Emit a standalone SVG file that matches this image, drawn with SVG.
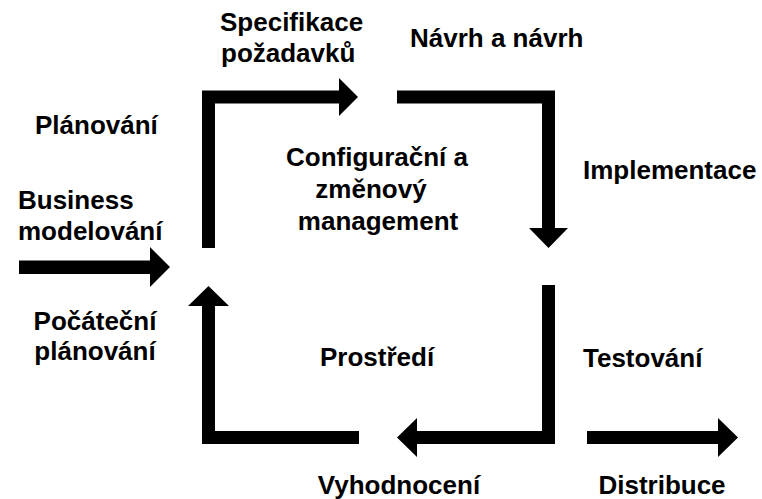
<svg xmlns="http://www.w3.org/2000/svg" width="762" height="499" viewBox="0 0 762 499">
  <style>
    .lbl { font-family: "Liberation Sans", Arial, sans-serif; font-weight: bold; font-size: 26px; fill: #000; }
    .mid { text-anchor: middle; }
    .arrow { fill: #000; stroke: none; }
  </style>
  <rect width="762" height="499" fill="#fff"/>

  <!-- process cycle arrows -->
  <g id="connectors">
    <!-- left side up, then across the top to the right -->
    <path class="arrow" d="M202,248 L202,90.5 L339,90.5 L339,78 L358,97 L339,116 L339,103.5 L215,103.5 L215,248 Z"/>
    <!-- top right, bending down -->
    <path class="arrow" d="M397,90.5 L555,90.5 L555,228 L568,228 L548.5,248 L529,228 L542,228 L542,103.5 L397,103.5 Z"/>
    <!-- incoming arrow -->
    <path class="arrow" d="M19,260.5 L150,260.5 L150,247 L170,267 L150,287 L150,274 L19,274 Z"/>
    <!-- bottom left, bending up -->
    <path class="arrow" d="M359,444 L202,444 L202,306 L188,306 L208.5,286 L229,306 L215,306 L215,431 L359,431 Z"/>
    <!-- right side down, then back to the left -->
    <path class="arrow" d="M542,285 L555,285 L555,444 L417,444 L417,457 L397,437.5 L417,418 L417,431 L542,431 Z"/>
    <!-- outgoing arrow -->
    <path class="arrow" d="M587,431 L718,431 L718,418 L738,437.5 L718,457 L718,444 L587,444 Z"/>
  </g>

  <g id="specifikace">
    <text class="lbl" x="220" y="31">Specifikace</text>
    <text class="lbl" x="221" y="62">požadavků</text>
  </g>
  <g id="navrh">
    <text class="lbl" x="410" y="47">Návrh a návrh</text>
  </g>
  <g id="planovani">
    <text class="lbl" x="35" y="134">Plánování</text>
  </g>
  <g id="business">
    <text class="lbl" x="18" y="209">Business</text>
    <text class="lbl" x="18" y="240">modelování</text>
  </g>
  <g id="konfigurace">
    <text class="lbl mid" x="377" y="166">Configurační a</text>
    <text class="lbl mid" x="371" y="198">změnový</text>
    <text class="lbl mid" x="378" y="230">management</text>
  </g>
  <g id="implementace">
    <text class="lbl" x="583" y="179">Implementace</text>
  </g>
  <g id="pocatecni">
    <text class="lbl mid" x="95" y="330">Počáteční</text>
    <text class="lbl mid" x="95" y="360">plánování</text>
  </g>
  <g id="prostredi">
    <text class="lbl" x="320" y="366">Prostředí</text>
  </g>
  <g id="testovani">
    <text class="lbl" x="583" y="367">Testování</text>
  </g>
  <g id="vyhodnoceni">
    <text class="lbl mid" x="399" y="494">Vyhodnocení</text>
  </g>
  <g id="distribuce">
    <text class="lbl mid" x="662" y="494">Distribuce</text>
  </g>
</svg>
